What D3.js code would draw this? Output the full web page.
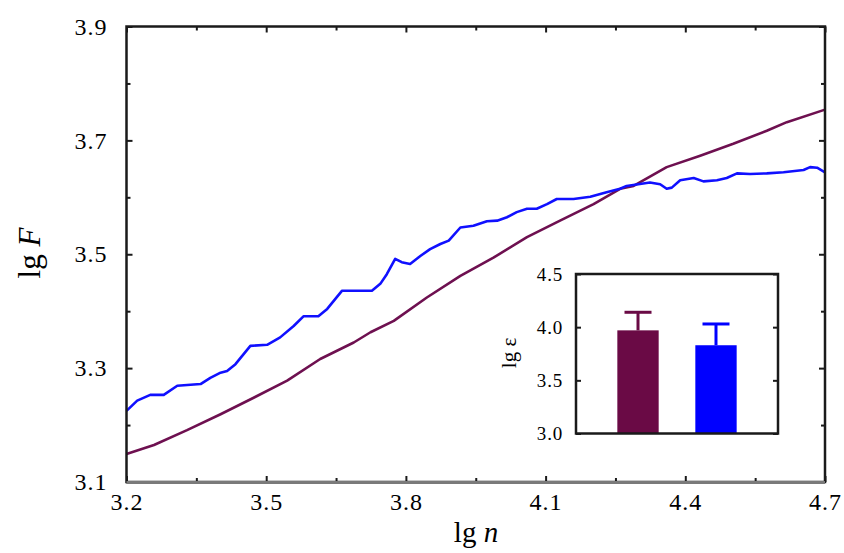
<!DOCTYPE html>
<html>
<head>
<meta charset="utf-8">
<script src="https://cdn.jsdelivr.net/npm/d3@7"></script>
<style>
  html, body { margin: 0; padding: 0; background: #fff; }
  text { font-family: "Liberation Serif", "DejaVu Serif", serif; fill: #000; }
</style>
</head>
<body>
<svg id="chart" width="844" height="553"></svg>
<script>
// ---- data ----
const xTicks = [3.2, 3.5, 3.8, 4.1, 4.4, 4.7];
const yTicks = [3.1, 3.3, 3.5, 3.7, 3.9];
const xMinorTicks = [3.35, 3.65, 3.95, 4.25, 4.55];
const yMinorTicks = [3.2, 3.4, 3.6, 3.8];

// maroon series (lg n, lg F)
const maroonX = [3.20, 3.259, 3.330, 3.402, 3.473, 3.545, 3.616, 3.688, 3.724, 3.774, 3.845, 3.917, 3.988, 4.060, 4.131, 4.203, 4.260, 4.289, 4.360, 4.432, 4.503, 4.575, 4.618, 4.70];
const maroonY = [3.149, 3.165, 3.191, 3.219, 3.248, 3.278, 3.316, 3.345, 3.363, 3.383, 3.424, 3.462, 3.494, 3.530, 3.559, 3.588, 3.615, 3.620, 3.653, 3.673, 3.694, 3.717, 3.732, 3.754];

// blue series (lg n, lg F)
const blueX = [3.20, 3.223, 3.251, 3.280, 3.309, 3.359, 3.380, 3.402, 3.416, 3.434, 3.466, 3.502, 3.530, 3.559, 3.580, 3.612, 3.631, 3.663, 3.727, 3.745, 3.759, 3.777, 3.791, 3.809, 3.831, 3.852, 3.874, 3.892, 3.917, 3.945, 3.974, 3.996, 4.017, 4.038, 4.060, 4.081, 4.103, 4.124, 4.160, 4.196, 4.231, 4.260, 4.274, 4.324, 4.346, 4.360, 4.371, 4.389, 4.418, 4.439, 4.468, 4.489, 4.511, 4.539, 4.575, 4.611, 4.654, 4.668, 4.683, 4.70];
const blueY = [3.225, 3.243, 3.253, 3.253, 3.269, 3.272, 3.283, 3.292, 3.295, 3.307, 3.339, 3.341, 3.354, 3.374, 3.391, 3.391, 3.404, 3.436, 3.436, 3.448, 3.465, 3.492, 3.486, 3.483, 3.497, 3.509, 3.518, 3.524, 3.547, 3.550, 3.558, 3.559, 3.565, 3.574, 3.580, 3.580, 3.588, 3.597, 3.597, 3.601, 3.609, 3.615, 3.620, 3.626, 3.623, 3.615, 3.617, 3.630, 3.634, 3.628, 3.630, 3.634, 3.642, 3.641, 3.642, 3.644, 3.648, 3.653, 3.652, 3.644];

// inset bar chart
const insetCategories = ["maroon", "blue"];
const insetValues = [3.97, 3.83];
const insetErrors = [0.17, 0.20];
const insetTicks = [3.0, 3.5, 4.0, 4.5];

const colors = { maroon: "#6a0a45", blue: "#0000ff" };

// ---- drawing ----
const svg = d3.select("#chart");
const x = d3.scaleLinear().domain([3.2, 4.7]).range([126.5, 825]);
const y = d3.scaleLinear().domain([3.1, 3.9]).range([482, 26.5]);

const frameColor = "#1a1a1a";

// lines
const line = d3.line().x(d => x(d[0])).y(d => y(d[1]));
svg.append("path")
  .datum(d3.zip(maroonX, maroonY))
  .attr("d", line).attr("fill", "none")
  .attr("stroke", "#6e1050").attr("stroke-width", 2.6).attr("stroke-linejoin", "round");
svg.append("path")
  .datum(d3.zip(blueX, blueY))
  .attr("d", line).attr("fill", "none")
  .attr("stroke", "#1010ff").attr("stroke-width", 2.6).attr("stroke-linejoin", "round");

// axes (ticks inward on all four sides)
const fs = 24;
const axB = svg.append("g").attr("transform", `translate(0,${y.range()[0]})`)
  .call(d3.axisBottom(x).tickValues(xTicks).tickSizeInner(-6).tickSizeOuter(0).tickPadding(11).tickFormat(d3.format(".1f")));
const axBm = svg.append("g").attr("transform", `translate(0,${y.range()[0]})`)
  .call(d3.axisBottom(x).tickValues(xMinorTicks).tickSizeInner(-4).tickSizeOuter(0).tickFormat(""));
const axT = svg.append("g").attr("transform", `translate(0,${y.range()[1]})`)
  .call(d3.axisTop(x).tickValues(xTicks).tickSizeInner(-6).tickSizeOuter(0).tickFormat(""));
const axTm = svg.append("g").attr("transform", `translate(0,${y.range()[1]})`)
  .call(d3.axisTop(x).tickValues(xMinorTicks).tickSizeInner(-4).tickSizeOuter(0).tickFormat(""));
const axL = svg.append("g").attr("transform", `translate(${x.range()[0]},0)`)
  .call(d3.axisLeft(y).tickValues(yTicks).tickSizeInner(-6).tickSizeOuter(0).tickPadding(19).tickFormat(d3.format(".1f")));
const axLm = svg.append("g").attr("transform", `translate(${x.range()[0]},0)`)
  .call(d3.axisLeft(y).tickValues(yMinorTicks).tickSizeInner(-4).tickSizeOuter(0).tickFormat(""));
const axR = svg.append("g").attr("transform", `translate(${x.range()[1]},0)`)
  .call(d3.axisRight(y).tickValues(yTicks).tickSizeInner(-6).tickSizeOuter(0).tickFormat(""));
const axRm = svg.append("g").attr("transform", `translate(${x.range()[1]},0)`)
  .call(d3.axisRight(y).tickValues(yMinorTicks).tickSizeInner(-4).tickSizeOuter(0).tickFormat(""));

[axB, axBm, axT, axTm, axL, axLm, axR, axRm].forEach(g => {
  g.select(".domain").remove();
  g.selectAll(".tick line").attr("stroke", frameColor).attr("stroke-width", 2);
  g.selectAll(".tick text").attr("font-size", fs).attr("font-family", "Liberation Serif")
    .attr("letter-spacing", 1).attr("fill", "#333");
});

// frame
svg.append("rect")
  .attr("x", x.range()[0]).attr("y", y.range()[1])
  .attr("width", x.range()[1] - x.range()[0]).attr("height", y.range()[0] - y.range()[1])
  .attr("fill", "none").attr("stroke", frameColor).attr("stroke-width", 2.5);
svg.append("line")
  .attr("x1", x.range()[0]).attr("x2", x.range()[1])
  .attr("y1", y.range()[0] + 0.5).attr("y2", y.range()[0] + 0.5)
  .attr("stroke", "#7a7a7a").attr("stroke-width", 3);

// axis titles
const xt = svg.append("text").attr("x", 476).attr("y", 542).attr("text-anchor", "middle").attr("font-size", 29);
xt.append("tspan").text("lg ");
xt.append("tspan").attr("font-style", "italic").text("n");

const yt = svg.append("text").attr("transform", "translate(40,253) rotate(-90)").attr("text-anchor", "middle").attr("font-size", 31);
yt.append("tspan").text("lg ");
yt.append("tspan").attr("font-style", "italic").text("F");

// ---- inset ----
const ix = d3.scaleBand().domain(insetCategories).range([576, 778]).paddingInner(0.47).paddingOuter(0.53);
const iy = d3.scaleLinear().domain([3.0, 4.5]).range([433.5, 274]);

svg.append("rect").attr("x", 576).attr("y", 274).attr("width", 202).attr("height", 159.5).attr("fill", "#fff");

const bars = svg.append("g");
insetCategories.forEach((c, i) => {
  const cx = ix(c) + ix.bandwidth() / 2;
  const top = iy(insetValues[i] + insetErrors[i]);
  bars.append("line").attr("x1", cx).attr("x2", cx).attr("y1", iy(insetValues[i])).attr("y2", top)
    .attr("stroke", colors[c]).attr("stroke-width", 3);
  bars.append("line").attr("x1", cx - 13.5).attr("x2", cx + 13.5).attr("y1", top).attr("y2", top)
    .attr("stroke", colors[c]).attr("stroke-width", 3);
  bars.append("rect").attr("x", ix(c)).attr("y", iy(insetValues[i]))
    .attr("width", ix.bandwidth()).attr("height", iy(3.0) - iy(insetValues[i]))
    .attr("fill", colors[c]);
});

const iaL = svg.append("g").attr("transform", "translate(576,0)")
  .call(d3.axisLeft(iy).tickValues(insetTicks).tickSizeInner(-5).tickSizeOuter(0).tickPadding(13).tickFormat(d3.format(".1f")));
const iaR = svg.append("g").attr("transform", "translate(778,0)")
  .call(d3.axisRight(iy).tickValues(insetTicks).tickSizeInner(-5).tickSizeOuter(0).tickFormat(""));
[iaL, iaR].forEach(g => {
  g.select(".domain").remove();
  g.selectAll(".tick line").attr("stroke", frameColor).attr("stroke-width", 2);
  g.selectAll(".tick text").attr("font-size", 19).attr("font-family", "Liberation Serif")
    .attr("letter-spacing", 0.8).attr("fill", "#333");
});
svg.append("rect").attr("x", 576).attr("y", 274).attr("width", 202).attr("height", 159.5)
  .attr("fill", "none").attr("stroke", frameColor).attr("stroke-width", 2.5);

svg.append("text").attr("transform", "translate(516,353) rotate(-90)").attr("text-anchor", "middle")
  .attr("font-size", 21).attr("fill", "#333").text("lg ε");
</script>
</body>
</html>
